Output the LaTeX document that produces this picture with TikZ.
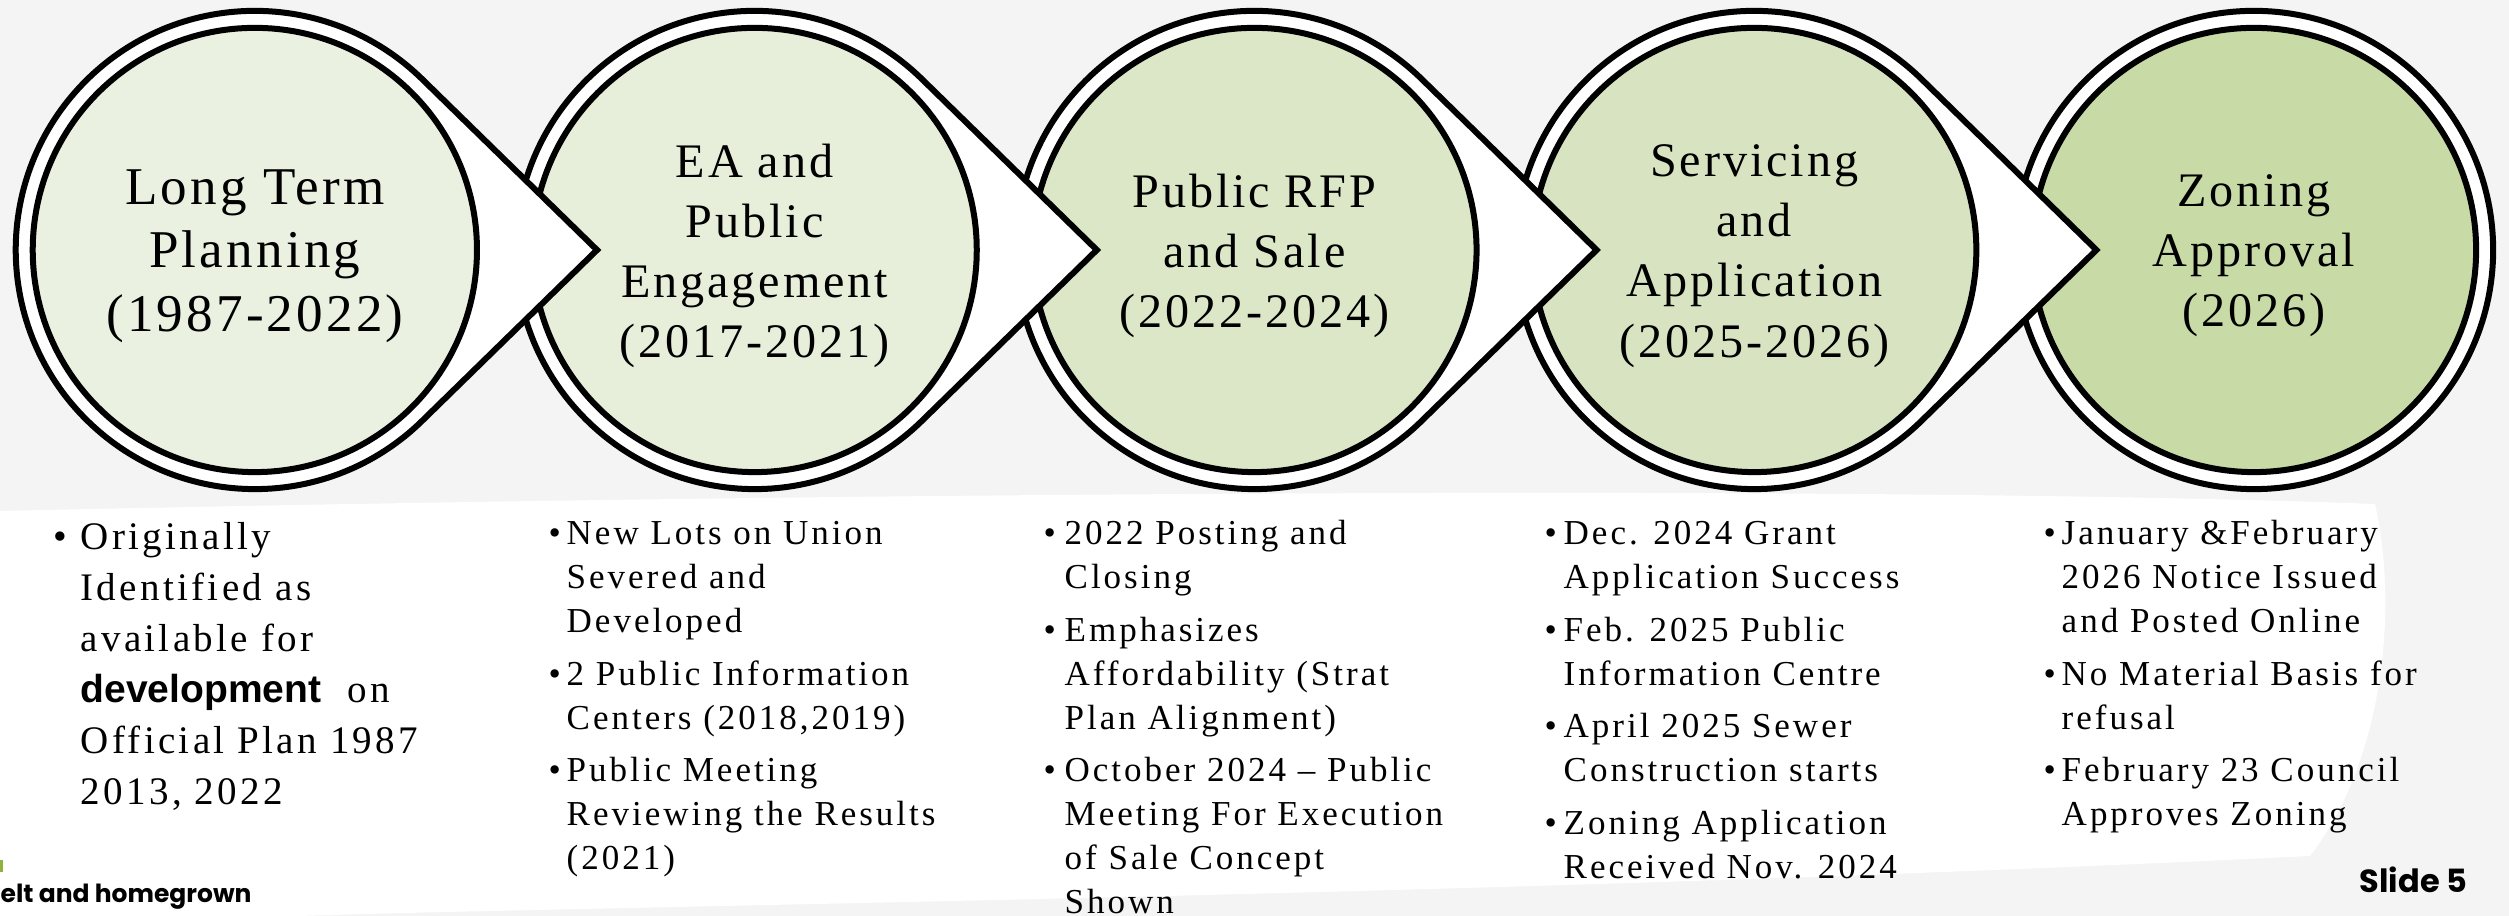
\documentclass[tikz,border=0pt]{standalone}
\usepackage{fontspec}
\setmainfont{Liberation Serif}
\newfontfamily\stepfont[LetterSpace=6]{Liberation Serif}
\newfontfamily\listfont[LetterSpace=8.5]{Liberation Serif}
\newfontfamily\devfont{Liberation Sans}
\newfontfamily\footfont{Poppins}
\usetikzlibrary{positioning}

\definecolor{stepA}{HTML}{EAF1E1}
\definecolor{stepB}{HTML}{E7EFDB}
\definecolor{stepC}{HTML}{DCE7C8}
\definecolor{stepD}{HTML}{D8E4C1}
\definecolor{stepE}{HTML}{C8DAA6}
\definecolor{slidegrey}{HTML}{F4F4F4}
\definecolor{leafgreen}{HTML}{8DB33A}

\tikzset{
  ring/.style={draw=black, fill=white, line width=0.06cm},
  disc/.style={circle, draw=black, line width=0.06cm, minimum size=4.44cm,
               inner sep=0pt},
  steplabel/.style={inner sep=0pt, align=center, yshift=-0.06cm},
  list/.style={anchor=base west, inner sep=0pt,
               font=\listfont\fontsize{9.96pt}{12.5pt}\selectfont},
}

\begin{document}
\begin{tikzpicture}[x=0.01cm, y=0.01cm]
\useasboundingbox (0,0) rectangle (2509,916);

% slide background
\fill[slidegrey] (0,0) rectangle (2509,916);
\fill[white] (0,405) .. controls (900,425) and (1900,430) .. (2375,412)
  .. controls (2400,300) and (2380,150) .. (2310,60)
  .. controls (1500,20) and (600,10) .. (300,0) -- (0,0) -- cycle;

% stage centres, right to left
\coordinate (m5) at (2254,666);
\coordinate[left=4.995cm of m5] (m4);
\coordinate[left=4.995cm of m4] (m3);
\coordinate[left=4.995cm of m3] (m2);
\coordinate[left=4.995cm of m2] (m1);

% last stage has no point
\draw[ring] (m5) circle[radius=2.39cm];
\node[disc, fill=stepE] (c5) at (m5) {};
\node[steplabel, font=\stepfont\fontsize{13.7pt}{17.1pt}\selectfont] (l5) at (c5)
  {Zoning\\Approval\\(2026)};

% the point of each stage lies over the next circle
\foreach \i/\col/\fs/\ls/\txt in {
    4/stepD/13.7pt/17.1pt/{Servicing\\and\\Application\\(2025-2026)},
    3/stepC/13.7pt/17.1pt/{Public RFP\\and Sale\\(2022-2024)},
    2/stepB/13.7pt/17.1pt/{EA and\\Public\\Engagement\\(2017-2021)},
    1/stepA/15.1pt/18pt/{Long Term\\Planning\\(1987-2022)}}{
  \coordinate[right=3.42cm of m\i] (t\i);
  \draw[ring] (m\i) ++(45.6:2.39cm) arc[start angle=45.6, end angle=314.4, radius=2.39cm]
    -- (t\i) -- cycle;
  \node[disc, fill=\col] (c\i) at (m\i) {};
  \node[steplabel, font=\stepfont\fontsize{\fs}{\ls}\selectfont] (l\i) at (c\i) {\txt};
}

% notes under the stages
\node[list, font=\listfont\fontsize{11.1pt}{14.5pt}\selectfont] (n1) at (53,366)
  {\begin{tabular}[t]{@{}p{0.27cm}@{}l@{}}
   \textbullet & Originally\\
   & Identified as\\
   & available for\\
   & {\devfont\bfseries development}\ \ on\\
   & Official Plan 1987\\
   & 2013, 2022
   \end{tabular}};
\node[list] (n2) at (548,371)
  {\begin{tabular}[t]{@{}p{0.18cm}@{}l@{}}
   \textbullet & New Lots on Union\\
   & Severed and\\
   & Developed\\[2.4pt]
   \textbullet & 2 Public Information\\
   & Centers (2018,2019)\\[2.4pt]
   \textbullet & Public Meeting\\
   & Reviewing the Results\\
   & (2021)
   \end{tabular}};
\node[list] (n3) at (1043,371)
  {\begin{tabular}[t]{@{}p{0.21cm}@{}l@{}}
   \textbullet & 2022 Posting and\\
   & Closing\\[2.4pt]
   \textbullet & Emphasizes\\
   & Affordability (Strat\\
   & Plan Alignment)\\[2.4pt]
   \textbullet & October 2024 \textendash{} Public\\
   & Meeting For Execution\\
   & of Sale Concept\\
   & Shown
   \end{tabular}};
\node[list] (n4) at (1544,371)
  {\begin{tabular}[t]{@{}p{0.19cm}@{}l@{}}
   \textbullet & Dec. 2024 Grant\\
   & Application Success\\[2.4pt]
   \textbullet & Feb. 2025 Public\\
   & Information Centre\\[2.4pt]
   \textbullet & April 2025 Sewer\\
   & Construction starts\\[2.4pt]
   \textbullet & Zoning Application\\
   & Received Nov. 2024
   \end{tabular}};
\node[list] (n5) at (2043,371)
  {\begin{tabular}[t]{@{}p{0.18cm}@{}l@{}}
   \textbullet & January \&February\\
   & 2026 Notice Issued\\
   & and Posted Online\\[2.4pt]
   \textbullet & No Material Basis for\\
   & refusal\\[2.4pt]
   \textbullet & February 23 Council\\
   & Approves Zoning
   \end{tabular}};

% footer
\fill[leafgreen] (0,44) rectangle (3,56);
\node[anchor=base west, inner sep=0pt, font=\footfont\bfseries\fontsize{7.1pt}{8pt}\selectfont]
  (tag) at (0,13) {elt and homegrown};
\node[anchor=base east, inner sep=0pt, font=\footfont\bfseries\fontsize{9.1pt}{10pt}\selectfont]
  (slide) at (2468,23) {Slide 5};
\end{tikzpicture}
\end{document}
